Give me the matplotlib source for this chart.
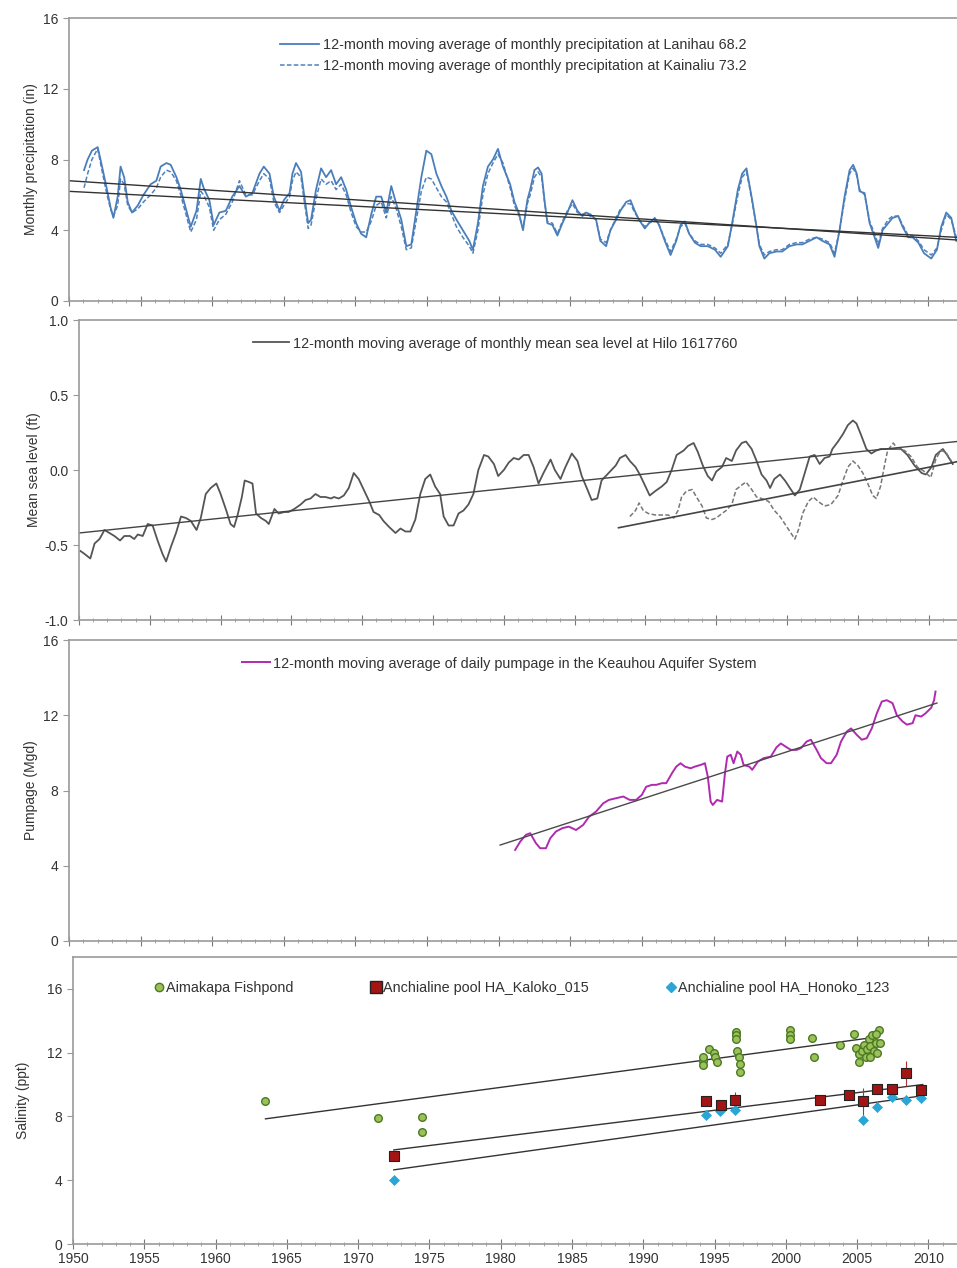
import matplotlib
matplotlib.use("Agg")
import matplotlib.pyplot as plt
from matplotlib.ticker import MultipleLocator
from matplotlib.lines import Line2D

plt.rcParams['font.family'] = ['Liberation Sans', 'DejaVu Sans']
plt.rcParams['font.size'] = 10
plt.rcParams['text.color'] = '#222222'

# ---- precipitation, 12-month moving averages (in) ----
prec_years = [1951.05, 1951.3, 1951.6, 1952.0, 1952.2, 1952.6, 1952.9, 1953.1, 1953.4, 1953.6,
              1953.85, 1954.1, 1954.4, 1954.8, 1955.2, 1955.7, 1956.1, 1956.4, 1956.8, 1957.1,
              1957.5, 1957.8, 1958.2, 1958.5, 1958.9, 1959.2, 1959.4, 1959.8, 1960.1, 1960.5,
              1960.95, 1961.4, 1961.9, 1962.35, 1962.8, 1963.3, 1963.6, 1964.0, 1964.3, 1964.7,
              1965.0, 1965.4, 1965.6, 1965.85, 1966.2, 1966.4, 1966.7, 1966.9, 1967.25, 1967.6,
              1967.95, 1968.3, 1968.65, 1969.0, 1969.35, 1969.7, 1970.05, 1970.4, 1970.75, 1971.1,
              1971.45, 1971.8, 1972.15, 1972.5, 1972.85, 1973.2, 1973.55, 1973.9, 1974.25, 1974.6,
              1974.95, 1975.3, 1975.65, 1976.0, 1976.35, 1976.7, 1977.05, 1977.5, 1977.95, 1978.2,
              1978.55, 1978.9, 1979.25, 1979.6, 1979.95, 1980.3, 1980.8, 1981.1, 1981.4, 1981.7,
              1982.0, 1982.2, 1982.5, 1982.75, 1983.0, 1983.2, 1983.4, 1983.75, 1984.1, 1984.45,
              1984.8, 1985.15, 1985.5, 1985.85, 1986.1, 1986.4, 1986.8, 1987.1, 1987.5, 1987.8,
              1988.2, 1988.5, 1988.9, 1989.2, 1989.5, 1989.8, 1990.2, 1990.5, 1990.9, 1991.2,
              1991.6, 1992.0, 1992.4, 1992.7, 1993.0, 1993.3, 1993.7, 1994.1, 1994.6, 1995.1,
              1995.5, 1996.0, 1996.3, 1996.7, 1997.0, 1997.3, 1997.5, 1997.7, 1998.0, 1998.2,
              1998.55, 1998.9, 1999.4, 1999.8, 2000.3, 2000.8, 2001.2, 2001.7, 2002.2, 2002.6,
              2003.1, 2003.45, 2003.8, 2004.15, 2004.5, 2004.75, 2005.0, 2005.2, 2005.55, 2005.9,
              2006.25, 2006.5, 2006.8, 2007.2, 2007.5, 2007.9, 2008.2, 2008.6, 2008.9, 2009.3,
              2009.7, 2010.2, 2010.6, 2010.9, 2011.25, 2011.6, 2011.95]
lanihau = [7.4, 8.0, 8.5, 8.7, 8.0, 6.5, 5.3, 4.7, 5.9, 7.6,
           7.0, 5.6, 5.0, 5.4, 6.0, 6.6, 6.8, 7.6, 7.8, 7.7,
           7.0, 6.3, 5.1, 4.2, 5.1, 6.9, 6.4, 5.7, 4.3, 5.0,
           5.1, 5.9, 6.5, 5.9, 6.1, 7.2, 7.6, 7.2, 5.9, 5.1,
           5.7, 6.1, 7.2, 7.8, 7.3, 6.1, 4.4, 4.6, 6.3, 7.5,
           7.0, 7.4, 6.6, 7.0, 6.3, 5.3, 4.4, 3.8, 3.6, 4.9,
           5.9, 5.9, 5.0, 6.5, 5.5, 4.6, 3.1, 3.2, 5.1, 7.0,
           8.5, 8.3, 7.2, 6.5, 5.9, 5.1, 4.6, 4.0, 3.4, 2.9,
           4.4, 6.5, 7.6, 8.0, 8.6, 7.6, 6.6, 5.6, 5.0, 4.0,
           5.7, 6.3, 7.4, 7.55, 7.2, 5.7, 4.4, 4.3, 3.7, 4.4,
           5.0, 5.7, 5.1, 4.8, 5.0, 4.9, 4.6, 3.4, 3.1, 4.0,
           4.6, 5.1, 5.6, 5.7, 5.1, 4.6, 4.1, 4.4, 4.7, 4.3,
           3.4, 2.6, 3.4, 4.3, 4.5, 3.8, 3.3, 3.1, 3.1, 2.9,
           2.5, 3.1, 4.4, 6.3, 7.2, 7.5, 6.6, 5.7, 4.2, 3.1,
           2.4, 2.7, 2.8, 2.8, 3.1, 3.2, 3.2, 3.4, 3.6, 3.4,
           3.2, 2.5, 4.0, 5.9, 7.4, 7.7, 7.2, 6.2, 6.1, 4.4,
           3.6, 3.0, 4.0, 4.4, 4.7, 4.8, 4.2, 3.6, 3.6, 3.3,
           2.7, 2.4, 2.9, 4.2, 5.0, 4.7, 3.4]
kainaliu = [6.4, 7.2, 8.0, 8.6, 7.8, 6.2, 5.2, 4.8, 5.4, 6.9,
            6.6, 5.4, 5.0, 5.2, 5.6, 6.0, 6.4, 7.0, 7.4, 7.3,
            6.8, 6.0, 4.8, 3.9, 4.6, 6.2, 6.0, 5.3, 4.0, 4.6,
            4.9, 5.6, 6.8, 6.0, 6.0, 6.8, 7.2, 6.9, 5.6, 5.0,
            5.4, 5.9, 6.8, 7.3, 7.0, 5.8, 4.1, 4.3, 5.8, 6.9,
            6.6, 6.8, 6.3, 6.6, 6.0, 5.0, 4.2, 3.9, 3.9, 4.5,
            5.4, 5.6, 4.7, 5.9, 5.2, 4.2, 2.9, 3.0, 4.6, 6.2,
            7.0, 6.9, 6.4, 5.9, 5.6, 4.9, 4.2, 3.6, 3.1, 2.7,
            4.0, 6.0, 7.2, 7.8, 8.3, 7.8, 6.4, 5.4, 4.9, 4.1,
            5.5, 6.0, 7.0, 7.3, 7.0, 5.6, 4.5, 4.4, 3.8, 4.5,
            5.1, 5.5, 5.0, 4.9, 5.0, 4.8, 4.6, 3.5, 3.3, 4.0,
            4.7, 5.2, 5.5, 5.5, 5.0, 4.6, 4.2, 4.4, 4.6, 4.3,
            3.5, 2.8, 3.5, 4.2, 4.4, 3.8, 3.4, 3.2, 3.2, 3.0,
            2.7, 3.2, 4.3, 6.0, 7.0, 7.3, 6.5, 5.6, 4.2, 3.2,
            2.6, 2.8, 2.9, 2.9, 3.2, 3.3, 3.3, 3.5, 3.6, 3.5,
            3.3, 2.7, 4.0, 5.7, 7.2, 7.5, 7.1, 6.3, 6.0, 4.5,
            3.8, 3.2, 4.1, 4.6, 4.8, 4.8, 4.3, 3.7, 3.7, 3.4,
            2.9, 2.6, 3.0, 4.0, 4.9, 4.6, 3.6]
lanihau_trend = [6.8, 3.45]      # at 1950 and 2012
kainaliu_trend = [6.2, 3.6]
trend_years = [1950, 2012]

# ---- sea level at Hilo (ft) ----
hilo_years = [1950.1, 1950.4, 1950.8, 1951.1, 1951.45, 1951.8, 1952.15, 1952.5, 1952.9, 1953.2,
              1953.6, 1953.9, 1954.15, 1954.5, 1954.85, 1955.2, 1955.55, 1955.9, 1956.15, 1956.5,
              1956.85, 1957.2, 1957.55, 1957.9, 1958.3, 1958.6, 1958.95, 1959.3, 1959.7, 1960.0,
              1960.4, 1960.7, 1960.95, 1961.2, 1961.5, 1961.7, 1962.0, 1962.25, 1962.5, 1962.85,
              1963.2, 1963.4, 1963.8, 1964.1, 1964.5, 1964.8, 1965.2, 1965.65, 1966.0, 1966.35,
              1966.7, 1967.05, 1967.4, 1967.8, 1968.0, 1968.35, 1968.7, 1969.05, 1969.4, 1969.75,
              1970.1, 1970.5, 1970.8, 1971.2, 1971.5, 1971.9, 1972.35, 1972.7, 1973.05, 1973.4,
              1973.75, 1974.1, 1974.45, 1974.8, 1975.15, 1975.5, 1975.75, 1976.1, 1976.45, 1976.8,
              1977.15, 1977.5, 1977.85, 1978.2, 1978.6, 1978.9, 1979.3, 1979.6, 1980.0, 1980.35,
              1980.7, 1981.05, 1981.4, 1981.75, 1982.1, 1982.45, 1982.8, 1983.3, 1983.6, 1984.0,
              1984.35, 1984.8, 1985.2, 1985.5, 1985.9, 1986.2, 1986.6, 1986.9, 1987.4, 1987.9,
              1988.2, 1988.6, 1988.9, 1989.3, 1989.6, 1990.0, 1990.3, 1990.7, 1991.15, 1991.5,
              1991.85, 1992.2, 1992.7, 1993.0, 1993.4, 1993.7, 1994.05, 1994.4, 1994.7, 1995.0,
              1995.4, 1995.7, 1996.1, 1996.4, 1996.8, 1997.1, 1997.5, 1997.85, 1998.2, 1998.55,
              1998.8, 1999.1, 1999.5, 1999.85, 2000.2, 2000.55, 2000.9, 2001.25, 2001.6, 2001.95,
              2002.3, 2002.65, 2003.0, 2003.2, 2003.6, 2003.95, 2004.3, 2004.65, 2004.9, 2005.2,
              2005.6, 2005.95, 2006.3, 2006.6, 2007.1, 2007.6, 2008.05, 2008.5, 2009.0, 2009.5,
              2009.8, 2010.2, 2010.5, 2011.0, 2011.3, 2011.7]
hilo_msl = [-0.54, -0.56, -0.59, -0.49, -0.46, -0.40, -0.42, -0.44, -0.47, -0.44,
            -0.44, -0.46, -0.43, -0.44, -0.36, -0.37, -0.47, -0.56, -0.61, -0.51,
            -0.42, -0.31, -0.32, -0.34, -0.40, -0.32, -0.16, -0.12, -0.09, -0.16,
            -0.27, -0.36, -0.38, -0.30, -0.18, -0.07, -0.08, -0.09, -0.29, -0.32,
            -0.34, -0.36, -0.26, -0.29, -0.28, -0.28, -0.26, -0.23, -0.20, -0.19,
            -0.16, -0.18, -0.18, -0.19, -0.18, -0.19, -0.17, -0.12, -0.02, -0.06,
            -0.13, -0.21, -0.28, -0.30, -0.34, -0.38, -0.42, -0.39, -0.41, -0.41,
            -0.33, -0.16, -0.06, -0.03, -0.11, -0.16, -0.31, -0.37, -0.37, -0.29,
            -0.27, -0.23, -0.16, 0.00, 0.10, 0.09, 0.04, -0.04, 0.00, 0.05,
            0.08, 0.07, 0.10, 0.10, 0.02, -0.09, -0.02, 0.07, 0.00, -0.06,
            0.02, 0.11, 0.06, -0.04, -0.13, -0.20, -0.19, -0.07, -0.02, 0.03,
            0.08, 0.10, 0.06, 0.02, -0.03, -0.11, -0.17, -0.14, -0.11, -0.08,
            0.00, 0.10, 0.13, 0.16, 0.18, 0.12, 0.03, -0.04, -0.07, -0.01,
            0.02, 0.08, 0.06, 0.13, 0.18, 0.19, 0.14, 0.06, -0.03, -0.07,
            -0.12, -0.06, -0.03, -0.07, -0.12, -0.17, -0.13, -0.02, 0.09, 0.10,
            0.04, 0.08, 0.09, 0.14, 0.19, 0.24, 0.30, 0.33, 0.31, 0.24,
            0.14, 0.11, 0.13, 0.14, 0.14, 0.14, 0.14, 0.10, 0.03, -0.02,
            -0.03, 0.02, 0.10, 0.14, 0.10, 0.04]
hilo_trend_years = [1950, 2012]
hilo_trend = [-0.42, 0.19]

# second gage (dashed, no legend entry)
msl2_years = [1988.9, 1989.3, 1989.55, 1989.85, 1990.2, 1990.7, 1991.15, 1991.6, 1992.0, 1992.3,
              1992.55, 1992.9, 1993.3, 1993.6, 1994.0, 1994.3, 1994.7, 1995.0, 1995.4, 1995.7,
              1996.1, 1996.4, 1996.8, 1997.1, 1997.5, 1997.85, 1998.2, 1998.7, 1999.1, 1999.5,
              1999.85, 2000.2, 2000.55, 2000.8, 2001.1, 2001.5, 2001.85, 2002.2, 2002.65, 2003.1,
              2003.6, 2003.95, 2004.3, 2004.65, 2005.0, 2005.35, 2005.7, 2006.05, 2006.3, 2006.6,
              2006.9, 2007.1, 2007.5, 2007.8, 2008.3, 2008.75, 2009.2, 2009.7, 2010.15, 2010.5,
              2010.85, 2011.2, 2011.6]
msl2 = [-0.31, -0.27, -0.22, -0.27, -0.29, -0.30, -0.30, -0.30, -0.32, -0.27,
        -0.18, -0.14, -0.13, -0.18, -0.24, -0.32, -0.33, -0.32, -0.29, -0.27,
        -0.23, -0.13, -0.10, -0.08, -0.13, -0.18, -0.19, -0.21, -0.27, -0.31,
        -0.36, -0.41, -0.46, -0.40, -0.29, -0.21, -0.18, -0.21, -0.24, -0.23,
        -0.17, -0.07, 0.02, 0.06, 0.03, -0.02, -0.09, -0.17, -0.19, -0.11,
        0.04, 0.13, 0.18, 0.14, 0.13, 0.09, 0.02, -0.01, -0.05, 0.07,
        0.13, 0.12, 0.06]
msl2_trend_years = [1988.1, 2012]
msl2_trend = [-0.385, 0.055]

# ---- pumpage, Keauhou aquifer system (Mgd) ----
pump_years = [1981.15, 1981.5, 1981.9, 1982.2, 1982.6, 1982.9, 1983.3, 1983.6, 1984.0, 1984.45,
              1984.9, 1985.4, 1985.9, 1986.3, 1986.8, 1987.3, 1987.7, 1988.2, 1988.7, 1989.15,
              1989.6, 1990.0, 1990.3, 1990.7, 1991.0, 1991.4, 1991.7, 1992.1, 1992.4, 1992.7,
              1993.0, 1993.4, 1993.7, 1994.1, 1994.4, 1994.6, 1994.8, 1994.95, 1995.25, 1995.6,
              1995.8, 1995.96, 1996.2, 1996.4, 1996.66, 1996.9, 1997.1, 1997.5, 1997.7, 1998.1,
              1998.5, 1999.0, 1999.4, 1999.7, 2000.1, 2000.4, 2000.8, 2001.1, 2001.5, 2001.8,
              2002.2, 2002.5, 2002.9, 2003.2, 2003.6, 2003.9, 2004.3, 2004.6, 2005.0, 2005.35,
              2005.7, 2006.05, 2006.4, 2006.75, 2007.1, 2007.5, 2007.8, 2008.2, 2008.5, 2008.9,
              2009.1, 2009.5, 2009.8, 2010.2, 2010.4, 2010.5]
pumpage = [4.84, 5.28, 5.64, 5.73, 5.2, 4.93, 4.93, 5.46, 5.82, 6.0,
           6.08, 5.9, 6.17, 6.6, 6.88, 7.32, 7.5, 7.59, 7.68, 7.5,
           7.5, 7.77, 8.2, 8.3, 8.3, 8.39, 8.39, 8.92, 9.27, 9.45,
           9.27, 9.18, 9.27, 9.36, 9.45, 8.74, 7.41, 7.23, 7.5, 7.41,
           8.92, 9.8, 9.9, 9.45, 10.07, 9.9, 9.36, 9.27, 9.1, 9.54,
           9.72, 9.8, 10.3, 10.5, 10.3, 10.16, 10.16, 10.25, 10.6, 10.7,
           10.16, 9.72, 9.45, 9.45, 9.9, 10.6, 11.13, 11.3, 10.96, 10.7,
           10.78, 11.3, 12.1, 12.73, 12.8, 12.64, 12.0, 11.67, 11.5, 11.58,
           12.0, 11.93, 12.1, 12.4, 12.8, 13.26]
pump_trend_years = [1980.1, 2010.6]
pump_trend = [5.1, 12.65]

# ---- salinity (ppt) ----
aimakapa_years = [1963.5, 1971.4, 1974.5, 1974.5,
                  1994.2, 1994.2, 1994.2, 1994.6, 1994.95, 1995.05, 1995.2,
                  1996.5, 1996.5, 1996.5, 1996.6, 1996.7, 1996.8, 1996.8,
                  2000.3, 2000.3, 2000.3, 2001.8, 2001.95, 2003.8, 2004.75,
                  2004.9, 2005.1, 2005.1, 2005.35, 2005.5, 2005.6, 2005.7, 2005.8,
                  2005.9, 2006.05, 2006.2, 2006.3, 2006.4, 2006.5, 2006.6, 2005.9, 2006.3]
aimakapa = [9.0, 7.9, 7.95, 7.0,
            11.5, 11.2, 11.7, 12.2, 12.0, 11.7, 11.4,
            13.3, 13.1, 12.85, 12.1, 11.7, 11.3, 10.8,
            13.4, 13.1, 12.85, 12.9, 11.75, 12.5, 13.2,
            12.3, 11.9, 11.4, 12.1, 12.5, 11.7, 12.2, 12.85,
            12.4, 13.1, 12.1, 12.6, 12.0, 13.4, 12.6, 11.7, 13.2]
kaloko_years = [1972.5, 1994.4, 1995.45, 1996.45, 2002.4, 2004.4, 2005.4, 2006.4, 2007.45, 2008.4, 2009.5]
kaloko = [5.5, 9.0, 8.7, 9.05, 9.05, 9.35, 8.95, 9.7, 9.7, 10.7, 9.65]
kaloko_err = [0, 0, 0, 0.5, 0, 0, 0.85, 0.3, 0, 0.8, 0]
honoko_years = [1972.5, 1994.4, 1995.4, 1996.45, 2005.4, 2006.4, 2007.45, 2008.4, 2009.5]
honoko = [4.0, 8.1, 8.35, 8.4, 7.75, 8.6, 9.2, 9.05, 9.15]
aimakapa_trend_years = [1963.5, 2005.7]
aimakapa_trend = [7.85, 12.9]
kaloko_trend_years = [1972.5, 2009.6]
kaloko_trend = [5.9, 10.0]
honoko_trend_years = [1972.5, 2009.6]
honoko_trend = [4.65, 9.3]

W, H = 957, 1268
fig = plt.figure(figsize=(W / 100, H / 100), dpi=100)
LEG_FS = 10.4


def make_axes(left_px, top_px, bottom_px):
    ax = fig.add_axes([left_px / W, 1 - bottom_px / H, (W - left_px) / W, (bottom_px - top_px) / H])
    ax.set_xlim(1950, 2012)
    for s in ['top', 'left', 'bottom']:
        ax.spines[s].set_color('#9a9a9a')
        ax.spines[s].set_linewidth(1.2)
    ax.spines['right'].set_visible(False)
    ax.xaxis.set_major_locator(MultipleLocator(5))
    ax.xaxis.set_minor_locator(MultipleLocator(1))
    ax.tick_params(axis='x', which='major', direction='inout', length=7, color='#777777')
    ax.tick_params(axis='x', which='minor', direction='inout', length=3, color='#999999')
    ax.tick_params(axis='y', direction='out', length=4, color='#999999', labelsize=10, labelcolor='#333333')
    ax.tick_params(axis='x', labelbottom=False)
    return ax


def style_legend(leg):
    for t in leg.get_texts():
        t.set_color('#333333')


# panel 1: precipitation
ax1 = make_axes(69, 18, 301)
ax1.set_ylim(0, 16)
ax1.set_yticks([0, 4, 8, 12, 16])
ax1.plot(prec_years, kainaliu, color='#4f81bd', lw=1.1, ls=(0, (3, 1.5)),
         label='12-month moving average of monthly precipitation at Kainaliu 73.2')
ax1.plot(prec_years, lanihau, color='#4a7ebb', lw=1.3,
         label='12-month moving average of monthly precipitation at Lanihau 68.2')
ax1.plot(trend_years, lanihau_trend, color='#333333', lw=1.0)
ax1.plot(trend_years, kainaliu_trend, color='#333333', lw=1.0)
h, l = ax1.get_legend_handles_labels()
leg = ax1.legend(h[::-1], l[::-1], loc='upper left', bbox_to_anchor=(0.2376, 0.93), frameon=False,
                 borderpad=0, borderaxespad=0, handlelength=2.7, handletextpad=0.3, labelspacing=0.5,
                 fontsize=LEG_FS)
style_legend(leg)
ax1.set_ylabel('Monthly precipitation (in)', color='#333333', fontsize=10, labelpad=4)

# panel 2: sea level
ax2 = make_axes(79, 320, 620)
ax2.set_ylim(-1.0, 1.0)
ax2.set_yticks([-1.0, -0.5, 0.0, 0.5, 1.0])
ax2.yaxis.set_major_formatter(matplotlib.ticker.FormatStrFormatter('%.1f'))
ax2.plot(hilo_years, hilo_msl, color='#555555', lw=1.3,
         label='12-month moving average of monthly mean sea level at Hilo 1617760')
ax2.plot(msl2_years, msl2, color='#777777', lw=1.1, ls=(0, (3, 1.5)))
ax2.plot(hilo_trend_years, hilo_trend, color='#444444', lw=1.0)
ax2.plot(msl2_trend_years, msl2_trend, color='#444444', lw=1.2)
leg = ax2.legend(handles=[ax2.lines[0]], loc='upper left', bbox_to_anchor=(0.198, 0.945), frameon=False,
                 borderpad=0, borderaxespad=0, handlelength=2.5, handletextpad=0.3, fontsize=LEG_FS)
style_legend(leg)
ax2.set_ylabel('Mean sea level (ft)', color='#333333', fontsize=10, labelpad=3)

# panel 3: pumpage
ax3 = make_axes(69, 640, 941)
ax3.set_ylim(0, 16)
ax3.set_yticks([0, 4, 8, 12, 16])
ax3.plot(pump_years, pumpage, color='#b02ab0', lw=1.4,
         label='12-month moving average of daily pumpage in the Keauhou Aquifer System')
ax3.plot(pump_trend_years, pump_trend, color='#4a4a4a', lw=1.0)
leg = ax3.legend(handles=[ax3.lines[0]], loc='upper left', bbox_to_anchor=(0.195, 0.945), frameon=False,
                 borderpad=0, borderaxespad=0, handlelength=1.9, handletextpad=0.25, fontsize=LEG_FS)
style_legend(leg)
ax3.set_ylabel('Pumpage (Mgd)', color='#333333', fontsize=10, labelpad=4)

# panel 4: salinity
ax4 = make_axes(73, 957, 1244)
ax4.set_ylim(0, 18)
ax4.set_yticks([0, 4, 8, 12, 16])
ax4.tick_params(axis='x', labelbottom=True, labelsize=10, labelcolor='#333333', pad=2)
ax4.plot(aimakapa_trend_years, aimakapa_trend, color='#333333', lw=1.0)
ax4.plot(kaloko_trend_years, kaloko_trend, color='#333333', lw=1.0)
ax4.plot(honoko_trend_years, honoko_trend, color='#333333', lw=1.0)
ax4.errorbar(kaloko_years, kaloko, yerr=kaloko_err, fmt='none', ecolor='#b03030', elinewidth=0.8)
ax4.scatter(aimakapa_years, aimakapa, s=30, marker='o', facecolor='#9bc15a', edgecolor='#4b7a22',
            linewidth=1.0, zorder=3)
ax4.scatter(honoko_years, honoko, s=26, marker='D', facecolor='#2aa6d6', edgecolor='#2aa6d6',
            linewidth=0.5, zorder=3)
ax4.scatter(kaloko_years, kaloko, s=60, marker='s', facecolor='#a31515', edgecolor='#222222',
            linewidth=0.8, zorder=4)
handles = [Line2D([], [], ls='none', marker='o', ms=6, mfc='#9bc15a', mec='#4b7a22'),
           Line2D([], [], ls='none', marker='s', ms=8, mfc='#a31515', mec='#222222'),
           Line2D([], [], ls='none', marker='D', ms=5, mfc='#2aa6d6', mec='#2aa6d6')]
labels = ['Aimakapa Fishpond', 'Anchialine pool HA_Kaloko_015', 'Anchialine pool HA_Honoko_123']
leg = ax4.legend(handles, labels, ncol=3, loc='center left', bbox_to_anchor=(0.092, 0.893), frameon=False,
                 borderpad=0, borderaxespad=0, handlelength=0.6, handletextpad=0.2, columnspacing=5.4,
                 fontsize=LEG_FS)
style_legend(leg)
ax4.set_ylabel('Salinity (ppt)', color='#333333', fontsize=10, labelpad=12)

fig.savefig('out.png', dpi=100)
